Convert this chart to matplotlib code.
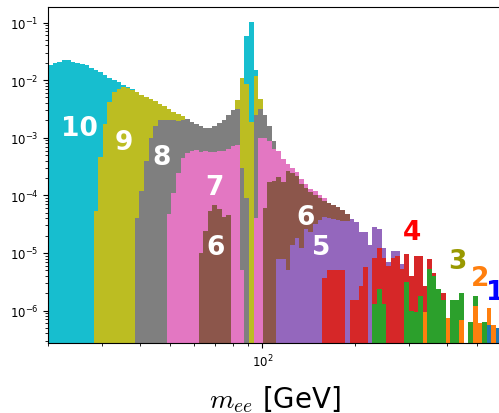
import numpy as np
import matplotlib
matplotlib.use('Agg')
import matplotlib.pyplot as plt

plt.rcParams['mathtext.fontset'] = 'cm'

# log spaced m_ee bins [GeV]
m_lo, m_hi, n_bins = 20., 618., 100

# normalised counts per multiplicity class, (first bin index, contents)
start10 = 0
h10 = [1.8e-2, 2.0e-2, 2.1e-2, 2.2e-2, 2.2e-2, 2.1e-2, 2.0e-2, 1.9e-2, 1.8e-2, 1.6e-2,
       1.5e-2, 1.4e-2, 1.25e-2, 1.1e-2, 1.0e-2, 9.2e-3, 8.2e-3, 7.6e-3, 7.0e-3, 6.0e-3,
       5.2e-3, 4.5e-3, 3.9e-3, 3.4e-3, 3.0e-3, 2.6e-3, 2.3e-3, 2.0e-3, 1.8e-3, 1.6e-3,
       1.5e-3, 1.4e-3, 1.3e-3, 1.2e-3, 1.15e-3, 1.1e-3, 1.2e-3, 1.3e-3, 1.5e-3, 1.8e-3,
       2.2e-3, 3.5e-3, 8.0e-3, 5.9e-2, 1.03e-1, 1.5e-2]

start9 = 10
h9 = [5.3e-5, 4.7e-4, 1.7e-3, 4.1e-3, 6.2e-3, 7.0e-3, 7.5e-3, 7.2e-3, 6.7e-3, 6.2e-3,
      5.6e-3, 5.1e-3, 4.7e-3, 4.3e-3, 3.9e-3, 3.5e-3, 3.1e-3, 2.8e-3, 2.6e-3, 2.4e-3,
      2.0e-3, 1.8e-3, 1.6e-3, 1.5e-3, 1.4e-3, 1.35e-3, 1.5e-3, 1.7e-3, 1.9e-3, 2.3e-3,
      2.8e-3, 4.6e-3, 1.1e-2, 8.5e-3, 1.9e-3, 1.2e-2, 4.8e-3]

start8 = 19
h8 = [4e-5, 1.2e-4, 4e-4, 1.0e-3, 1.6e-3, 2.0e-3, 2.0e-3, 2.0e-3, 2.0e-3, 1.95e-3,
      2.0e-3, 2.1e-3, 1.9e-3, 1.75e-3, 1.6e-3, 1.5e-3, 1.45e-3, 1.6e-3, 1.8e-3, 2.0e-3,
      2.5e-3, 3.0e-3, 3.2e-3, 3.0e-4, 9e-5, 0, 2.5e-3, 3.1e-3, 2.5e-3, 1.6e-3,
      8.9e-4]

start7 = 26
h7 = [4.7e-5, 1.1e-4, 2.4e-4, 4.5e-4, 5.5e-4, 5.8e-4, 6.1e-4, 5.6e-4, 6.0e-4, 5.6e-4,
      5.6e-4, 5.8e-4, 6.0e-4, 6.5e-4, 7.2e-4, 7.5e-4, 5e-6, 0, 0, 4e-5,
      1.0e-3, 1.0e-3, 8.9e-4, 6.4e-4, 5.8e-4, 4.3e-4, 3.5e-4, 3.0e-4, 2.5e-4, 1.9e-4,
      1.6e-4, 1.3e-4, 1.2e-4, 1.0e-4, 8.9e-5]

start6 = 33
h6 = [1.0e-5, 2.4e-5, 5.3e-5, 6.8e-5, 5.9e-5, 4.2e-5, 4.6e-5, 0, 0, 0,
      0, 0, 0, 0, 6e-5, 1.7e-4, 1.8e-4, 2.1e-4, 1.7e-4, 2.6e-4,
      2.4e-4, 2.2e-4, 1.6e-4, 1.35e-4, 1.15e-4, 1.0e-4, 9.0e-5, 8.0e-5, 7.5e-5, 6.8e-5,
      6.2e-5, 5.6e-5, 4.7e-5]

start5 = 50
h5 = [7.8e-6, 7.8e-6, 5.0e-6, 1.4e-5, 1.8e-5, 1.2e-5, 2.6e-5, 2.3e-5, 3.2e-5, 3.7e-5,
      4.2e-5, 4.0e-5, 3.9e-5, 3.8e-5, 3.6e-5, 3.6e-5, 3.9e-5, 3.5e-5, 2.3e-5, 2.3e-5,
      1.4e-5, 2.8e-5, 2.6e-5, 1.2e-5, 7e-6, 1.1e-5, 1.1e-5, 6.3e-6]

start4 = 60
h4 = [3.6e-6, 5.1e-6, 5.0e-6, 5.0e-6, 5.0e-6, 0, 1.5e-6, 1.5e-6, 2.7e-6, 5.6e-6,
      0, 8.3e-6, 1.2e-5, 8.3e-6, 6.0e-6, 8.3e-6, 8.8e-6, 5.2e-6, 9.5e-6, 3.9e-6,
      8.8e-6, 8.8e-6, 2.7e-6, 7.8e-6, 4.5e-6, 0, 2.0e-6]

start3 = 71
h3 = [1.3e-6, 2.4e-6, 1.3e-6, 0, 0, 0, 0, 3.1e-6, 1.0e-6, 9.6e-7,
      1.8e-6, 0, 5.2e-6, 4.0e-6, 2.4e-6, 1.5e-6, 0, 1.5e-6, 1.5e-6, 2.0e-6,
      0, 6.3e-7, 1.8e-6, 5e-7, 6.3e-7]

start2 = 82
h2 = [9.4e-7, 0, 0, 0, 0, 7.5e-7, 0, 0, 6.9e-7, 0,
      0, 1.2e-6, 6e-7, 0, 1.1e-6, 5.5e-7]

start1 = 96
h1 = [5.6e-7, 0, 5.0e-7, 0]

series = [(start10, h10, 'tab:cyan'), (start9, h9, 'tab:olive'), (start8, h8, 'tab:gray'),
          (start7, h7, 'tab:pink'), (start6, h6, 'tab:brown'), (start5, h5, 'tab:purple'),
          (start4, h4, 'tab:red'), (start3, h3, 'tab:green'), (start2, h2, 'tab:orange'),
          (start1, h1, 'tab:blue')]

edges = np.geomspace(m_lo, m_hi, n_bins + 1)

fig = plt.figure(figsize=(4.99, 4.14), dpi=100)
ax = fig.add_axes([48/499, 70/414, 453/499, 336.5/414])

floor = 1e-12
for start, h, col in series:
    vals = np.zeros(n_bins)
    vals[start:start + len(h)] = h
    ax.stairs(np.maximum(vals, floor), edges, baseline=floor, fill=True,
              color=col, lw=0)

ax.set_xscale('log')
ax.set_yscale('log')
ax.set_xlim(20, 600)
ax.set_ylim(2.73e-7, 0.19)
ax.tick_params(labelsize=8.5)
ax.set_xlabel(r'$m_{ee}$ [GeV]', fontsize=20, labelpad=10)

# multiplicity tags
tags = [('10', 25.4, 1.5e-3, 'white'), ('9', 35.3, 8.4e-4, 'white'),
        ('8', 47.0, 4.6e-4, 'white'), ('7', 69.9, 1.4e-4, 'white'),
        ('6', 70.2, 1.25e-5, 'white'), ('6', 138.4, 4.2e-5, 'white'),
        ('5', 155.5, 1.26e-5, 'white'), ('4', 308, 2.3e-5, 'red'),
        ('3', 434, 7.2e-6, '#999900'), ('2', 512, 3.6e-6, '#ff7f0e'),
        ('1', 575, 2.1e-6, 'blue')]
for txt, x, y, col in tags:
    ax.text(x, y, txt, color=col, fontsize=19, fontweight='bold',
            ha='center', va='center')

fig.savefig('out.png', dpi=100)
